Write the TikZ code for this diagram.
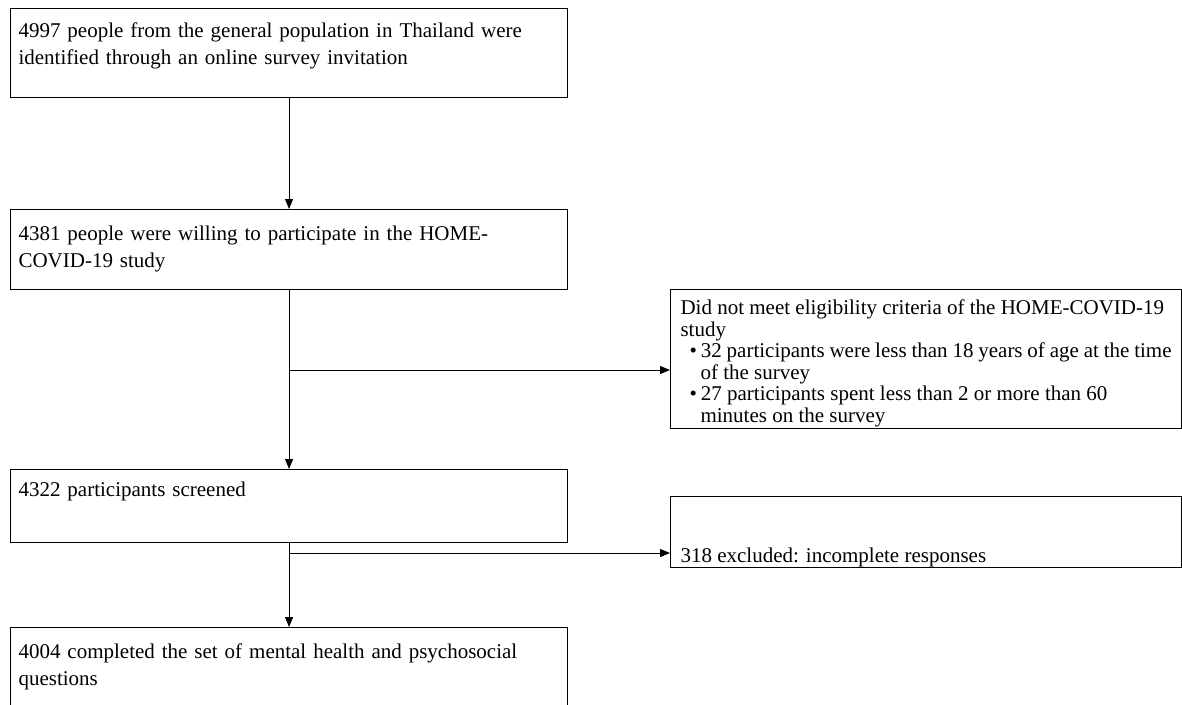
\documentclass[tikz,border=0pt]{standalone}
\usepackage{fontspec}
\setmainfont{Liberation Serif}
\usetikzlibrary{arrows.meta}
% #1 height, #2 width, #3 first baseline offset, #4 text
\newcommand\flowtext[4]{\parbox[c][#1][t]{#2}{\raggedright\rule{0pt}{#3}#4}}
\tikzset{
  flowbox/.style={draw=black, line width=1.1pt, anchor=north west, inner ysep=0pt,
    font=\fontsize{21pt}{26.5pt}\selectfont},
  leftbox/.style={flowbox, inner xsep=8pt},
  rightbox/.style={flowbox, inner xsep=10pt},
  flow/.style={draw=black, line width=1pt, -{Triangle[length=10pt,width=8pt]}}
}
\begin{document}
\begin{tikzpicture}[x=1pt,y=-1pt]
\useasboundingbox (0,0) rectangle (1182,704);
% left column (x 10--567)
\node[leftbox] (b1) at (10,8) {\flowtext{89pt}{541pt}{29pt}{\spaceskip=0.33em plus 0.1em 4997 people from the general population in Thailand were\\identified through an online survey invitation}};
\node[leftbox] (b2) at (10,209) {\flowtext{80pt}{541pt}{31pt}{\spaceskip=0.33em plus 0.1em 4381 people were willing to participate in the HOME-\\COVID-19 study}};
\node[leftbox] (b4) at (10,469) {\flowtext{73pt}{541pt}{27pt}{\spaceskip=0.33em plus 0.1em 4322 participants screened}};
\node[leftbox] (b6) at (10,627) {\flowtext{90pt}{541pt}{31pt}{\spaceskip=0.33em plus 0.1em 4004 completed the set of mental health and psychosocial\\questions}};
% right column (x 670--1181)
\node[rightbox] (b3) at (670,289) {\flowtext{139pt}{491pt}{25pt}{\fontsize{21pt}{21.5pt}\selectfont
Did not meet eligibility criteria of the HOME-COVID-19\\
study\\
\hspace*{9pt}\textbullet\hspace*{4pt}32 participants were less than 18 years of age at the time\\
\hspace*{20pt}of the survey\\
\hspace*{9pt}\textbullet\hspace*{4pt}27 participants spent less than 2 or more than 60\\
\hspace*{20pt}minutes on the survey}};
\node[rightbox] (b5) at (670,496) {\flowtext{71pt}{491pt}{66pt}{318 excluded: incomplete responses}};
% connectors
\coordinate (j1) at (288.5,370);
\coordinate (j2) at (288.5,553);
\draw[flow] (b1.south) -- (b2.north);
\draw[flow] (b2.south) -- (b4.north);
\draw[flow] (b4.south) -- (b6.north);
\draw[flow] (j1) -- (j1 -| b3.west);
\draw[flow] (j2) -- (j2 -| b5.west);
\end{tikzpicture}
\end{document}
